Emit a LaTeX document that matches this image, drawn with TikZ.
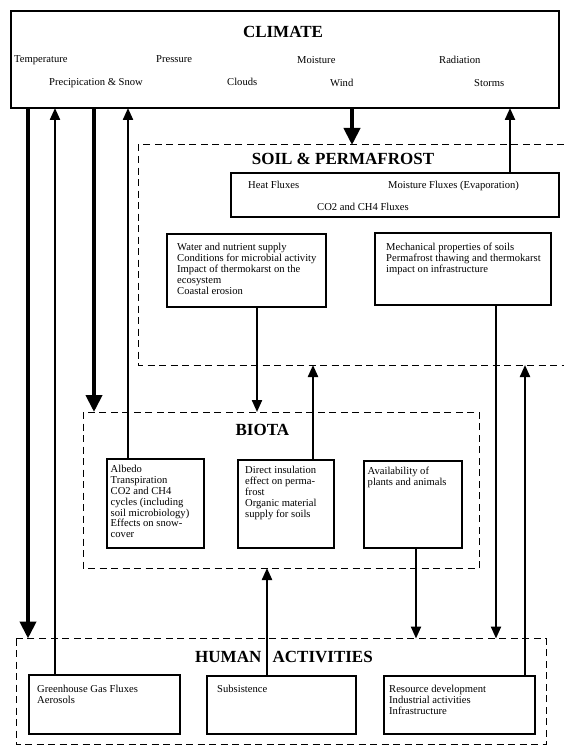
\documentclass[tikz,border=0pt]{standalone}
\usepackage{fontspec}
\setmainfont{Liberation Serif}
\usetikzlibrary{arrows.meta}
\begin{document}
\begin{tikzpicture}[x=1pt,y=-1pt,
  box/.style={draw, line width=1.2pt, inner sep=0pt, outer sep=0pt, anchor=north west},
  area/.style={inner sep=0pt, outer sep=0pt, anchor=north west},
  dashbox/.style={dash pattern=on 7pt off 4.5pt, line width=1pt},
  txt/.style={font=\fontsize{10.6}{10.8}\selectfont, align=left, anchor=north west, inner sep=0pt},
  lbl/.style={font=\fontsize{10.6}{12}\selectfont, anchor=base west, inner sep=0pt},
  ttl/.style={font=\fontsize{17}{20}\selectfont\bfseries, anchor=base, inner sep=0pt},
  thickarr/.style={line width=4pt, -{Triangle[width=16pt,length=17pt]}},
  thinarr/.style={line width=2.2pt, -{Triangle[width=10pt,length=12pt]}}]
\useasboundingbox (0,0) rectangle (564,746);
\fill[white] (0,0) rectangle (564,746);

% ---------- CLIMATE ----------
\node[box, minimum width=548pt, minimum height=97pt] (climate) at (11,11) {};
\node[ttl] (climt) at (283,37.6) {CLIMATE};
\node[lbl] (temp) at (14,63) {Temperature};
\node[lbl] (pres) at (156,63) {Pressure};
\node[lbl] (mois) at (297,64) {Moisture};
\node[lbl] (rad) at (439,64) {Radiation};
\node[lbl] (prec) at (49,86) {Precipication \& Snow};
\node[lbl] (clou) at (227,86) {Clouds};
\node[lbl] (wind) at (330,86.5) {Wind};
\node[lbl] (stor) at (474,86.5) {Storms};

% ---------- SOIL & PERMAFROST ----------
\node[area, minimum width=426pt, minimum height=220pt] (soil) at (138,145) {};
\draw[dashbox] (soil.north east) -- (soil.north west) -- (soil.south west) -- (soil.south east);
\node[ttl] (soilt) at (343,164.6) {SOIL \& PERMAFROST};
\node[box, minimum width=328pt, minimum height=44pt] (heat) at (231,173) {};
\node[txt] (heatt) at (248,181) {Heat Fluxes};
\node[txt] (moft) at (388,181) {Moisture Fluxes (Evaporation)};
\node[txt] (co2t) at (317,202.5) {CO2 and CH4 Fluxes};
\node[box, minimum width=159pt, minimum height=73pt] (water) at (167,234) {};
\node[txt] (watert) at (177,243.3) {Water and nutrient supply\\Conditions for microbial activity\\Impact of thermokarst on the\\ecosystem\\Coastal erosion};
\node[box, minimum width=176pt, minimum height=72pt] (mech) at (375,233) {};
\node[txt] (mecht) at (386,243.3) {Mechanical properties of soils\\Permafrost thawing and thermokarst\\impact on infrastructure};

% ---------- BIOTA ----------
\node[area, minimum width=396pt, minimum height=156pt] (biota) at (83,412) {};
\draw[dashbox] (biota.north west) rectangle (biota.south east);
\node[ttl] (biotat) at (262.4,435.6) {BIOTA};
\node[box, minimum width=97pt, minimum height=89pt] (albedo) at (107,459) {};
\node[txt] (albedot) at (110.5,465.3) {Albedo\\Transpiration\\CO2 and CH4\\cycles (including\\soil microbiology)\\Effects on snow-\\cover};
\node[box, minimum width=96pt, minimum height=88pt] (direct) at (238,460) {};
\node[txt] (directt) at (245,466.3) {Direct insulation\\effect on perma-\\frost\\Organic material\\supply for soils};
\node[box, minimum width=98pt, minimum height=87pt] (avail) at (364,461) {};
\node[txt] (availt) at (367.5,467.3) {Availability of\\plants and animals};

% ---------- HUMAN ACTIVITIES ----------
\node[area, minimum width=530pt, minimum height=106pt] (human) at (16,638.5) {};
\draw[dashbox] (human.north west) rectangle (human.south east);
\node[ttl, anchor=base west] (humant) at (195,662.6) {HUMAN};
\node[ttl, anchor=base east] (actt) at (373,662.6) {ACTIVITIES};
\node[box, minimum width=151pt, minimum height=59pt] (ghg) at (29,675) {};
\node[txt] (ghgt) at (37,685.3) {Greenhouse Gas Fluxes\\Aerosols};
\node[box, minimum width=149pt, minimum height=58pt] (subs) at (207,676) {};
\node[txt] (subst) at (217,685.3) {Subsistence};
\node[box, minimum width=151pt, minimum height=58pt] (res) at (384,676) {};
\node[txt] (rest) at (389,685.3) {Resource development\\Industrial activities\\Infrastructure};

% ---------- x positions of connectors ----------
\coordinate (xa) at (28,0);
\coordinate (xb) at (55,0);
\coordinate (xc) at (94,0);
\coordinate (xd) at (128,0);
\coordinate (xe) at (352,0);
\coordinate (xf) at (510,0);
\coordinate (xg) at (257,0);
\coordinate (xh) at (313,0);
\coordinate (xi) at (416,0);
\coordinate (xj) at (496,0);
\coordinate (xk) at (525,0);
\coordinate (xl) at (267,0);

% ---------- connectors ----------
\draw[thickarr] (climate.south -| xa) -- (human.north -| xa);
\draw[thinarr] (ghg.north -| xb) -- (climate.south -| xb);
\draw[thickarr] (climate.south -| xc) -- (biota.north -| xc);
\draw[thinarr] (albedo.north -| xd) -- (climate.south -| xd);
\draw[thickarr] (climate.south -| xe) -- (soil.north -| xe);
\draw[thinarr] (heat.north -| xf) -- (climate.south -| xf);
\draw[thinarr] (water.south -| xg) -- (biota.north -| xg);
\draw[thinarr] (direct.north -| xh) -- (soil.south -| xh);
\draw[thinarr] (avail.south -| xi) -- (human.north -| xi);
\draw[thinarr] (mech.south -| xj) -- (human.north -| xj);
\draw[thinarr] (res.north -| xk) -- (soil.south -| xk);
\draw[thinarr] (subs.north -| xl) -- (biota.south -| xl);
\end{tikzpicture}
\end{document}
